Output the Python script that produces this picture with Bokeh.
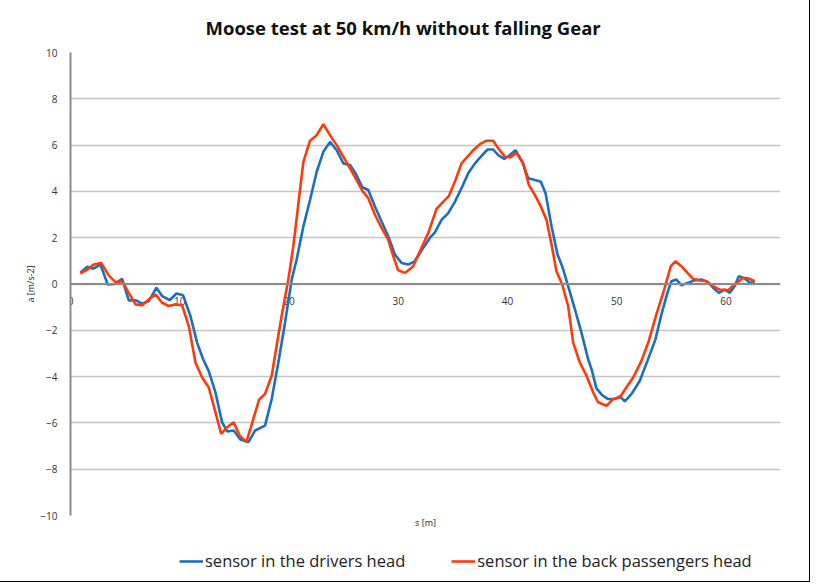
from bokeh.plotting import figure
from bokeh.layouts import column
from bokeh.models import Range1d, FixedTicker, Span, Legend, LegendItem
from bokeh.embed import file_html
from bokeh.resources import INLINE
from bokeh.core.properties import value

# ---------------- data ----------------
driver_s = [0.91, 1.53, 2.08, 2.74, 3.41, 4.03, 4.73, 5.33, 5.95, 6.56, 7.16, 7.87, 8.39, 9.08,
            9.70, 10.31, 10.98, 11.59, 12.14, 12.65, 13.27, 13.88, 14.34, 14.94, 15.55, 16.29,
            16.9, 17.81, 18.42, 19.03, 19.64, 20.25, 20.7, 21.32, 21.93, 22.54, 23.15, 23.76,
            24.37, 24.98, 25.59, 26.1, 26.72, 27.26, 27.87, 28.48, 29.09, 29.7, 30.31, 30.92,
            31.5, 32.3, 32.9, 33.36, 33.97, 34.58, 35.2, 35.8, 36.41, 37.03, 37.63, 38.18,
            38.7, 39.16, 39.71, 40.23, 40.74, 41.35, 41.9, 42.51, 43.06, 43.49, 44.04, 44.59,
            45.01, 45.56, 46.18, 46.78, 47.39, 47.7, 48.15, 48.67, 49.22, 49.83, 50.29, 50.75,
            51.36, 52.12, 52.82, 53.55, 54.1, 54.65, 55.01, 55.47, 55.93, 56.54, 57.15, 57.82,
            58.37, 58.83, 59.35, 59.9, 60.36, 60.81, 61.18, 61.73, 62.19, 62.65]
driver_a = [0.49, 0.75, 0.66, 0.84, -0.02, 0.0, 0.22, -0.71, -0.7, -0.85, -0.74, -0.16, -0.52, -0.7,
            -0.41, -0.49, -1.38, -2.53, -3.25, -3.75, -4.68, -5.97, -6.37, -6.33, -6.72, -6.83,
            -6.33, -6.12, -4.97, -3.39, -1.67, 0.19, 1.05, 2.49, 3.63, 4.85, 5.71, 6.14,
            5.78, 5.21, 5.14, 4.78, 4.18, 4.06, 3.35, 2.7, 2.06, 1.27, 0.91, 0.84,
            0.98, 1.56, 1.99, 2.23, 2.77, 3.06, 3.56, 4.14, 4.78, 5.21, 5.53, 5.81,
            5.81, 5.57, 5.4, 5.57, 5.78, 5.28, 4.57, 4.49, 4.42, 3.92, 2.49, 1.27,
            0.77, -0.09, -1.1, -2.1, -3.25, -3.68, -4.51, -4.8, -4.97, -4.97, -4.85, -5.07,
            -4.75, -4.18, -3.32, -2.39, -1.31, -0.38, 0.12, 0.19, -0.05, 0.05, 0.16, 0.19,
            0.08, -0.16, -0.38, -0.24, -0.38, -0.09, 0.34, 0.24, 0.05, 0.08]

passenger_s = [0.91, 1.53, 2.13, 2.81, 3.5, 4.12, 4.73, 5.33, 5.95, 6.56, 7.16, 7.78, 8.39, 8.99,
               9.61, 10.22, 10.83, 11.44, 12.05, 12.65, 13.27, 13.79, 14.34, 14.94, 15.49, 16.1,
               16.74, 17.26, 17.81, 18.42, 18.87, 19.33, 19.94, 20.4, 21.32, 21.93, 22.54, 23.15,
               23.76, 24.37, 24.98, 25.59, 26.2, 26.72, 27.26, 27.87, 28.48, 29.09, 29.55, 30.0,
               30.62, 31.38, 31.99, 32.75, 33.5, 34.13, 34.65, 35.25, 35.8, 36.41, 36.87, 37.48,
               38.09, 38.7, 39.16, 39.77, 40.28, 40.83, 41.45, 41.96, 42.51, 43.06, 43.58, 44.04,
               44.49, 45.01, 45.56, 46.02, 46.63, 47.24, 47.85, 48.3, 49.07, 49.68, 50.29, 50.9,
               51.51, 52.27, 52.94, 53.64, 54.35, 54.96, 55.38, 55.93, 56.48, 57.0, 57.61, 58.22,
               58.83, 59.44, 60.2, 60.81, 61.57, 62.09, 62.65]
passenger_a = [0.45, 0.62, 0.84, 0.91, 0.37, 0.08, 0.12, -0.38, -0.88, -0.92, -0.67, -0.45, -0.81, -0.95,
               -0.88, -0.92, -1.82, -3.39, -4.04, -4.46, -5.54, -6.47, -6.19, -5.97, -6.55, -6.83,
               -5.83, -5.0, -4.75, -3.96, -2.67, -1.38, 0.19, 1.63, 5.28, 6.19, 6.43, 6.9,
               6.43, 6.0, 5.5, 5.0, 4.49, 4.03, 3.71, 2.99, 2.42, 1.91, 1.2, 0.59,
               0.48, 0.77, 1.41, 2.2, 3.23, 3.56, 3.81, 4.49, 5.21, 5.53, 5.78, 6.04,
               6.19, 6.19, 5.86, 5.5, 5.47, 5.67, 5.21, 4.28, 3.85, 3.35, 2.77, 1.7,
               0.55, -0.02, -0.95, -2.53, -3.39, -3.96, -4.68, -5.11, -5.26, -4.97, -4.9, -4.46,
               -4.04, -3.32, -2.46, -1.31, -0.24, 0.77, 0.98, 0.77, 0.48, 0.22, 0.16, 0.12,
               -0.09, -0.24, -0.27, -0.02, 0.27, 0.24, 0.12]

x_ticks = [0, 10, 20, 30, 40, 50, 60]
x_tick_labels = [str(t) for t in x_ticks]
y_ticks = [-10, -8, -6, -4, -2, 0, 2, 4, 6, 8, 10]

title_text = "Moose test at 50 km/h without falling Gear"
x_label = "s [m]"
y_label = "a [m/s-2]"
series_names = ["sensor in the drivers head", "sensor in the back passengers head"]
colors = ["#1a6fc0", "#ff3a0a"]

FONT = "Open Sans"

# ---------------- main figure ----------------
p = figure(width=809, height=535,
           x_range=Range1d(0, 65), y_range=Range1d(-10, 10),
           output_backend="svg", toolbar_location=None,
           min_border_left=70, min_border_right=29, min_border_top=50, min_border_bottom=20,
           background_fill_color="white", border_fill_color="white")
p.outline_line_color = None

# title
p.title.text = title_text
p.title.text_font = FONT
p.title.text_font_size = "18.5px"
p.title.text_font_style = "bold"
p.title.text_color = "#111111"
p.title.align = "left"
p.title.offset = 135
p.title.standoff = 25

# y axis
p.yaxis.ticker = FixedTicker(ticks=y_ticks)
p.yaxis.major_tick_line_color = None
p.yaxis.minor_tick_line_color = None
p.yaxis.axis_line_color = "#8a8a8a"
p.yaxis.axis_line_width = 2
p.yaxis.major_label_text_font = FONT
p.yaxis.major_label_text_font_size = "10px"
p.yaxis.major_label_text_color = "#333333"
p.yaxis.major_label_standoff = 7
p.yaxis.axis_label = y_label
p.yaxis.axis_label_text_font = FONT
p.yaxis.axis_label_text_font_size = "9px"
p.yaxis.axis_label_text_font_style = "normal"
p.yaxis.axis_label_text_color = "#222222"
p.yaxis.axis_label_standoff = 0

# x axis (only label; tick labels drawn at the zero line)
p.xaxis.ticker = FixedTicker(ticks=[])
p.xaxis.axis_line_color = None
p.xaxis.major_tick_line_color = None
p.xaxis.minor_tick_line_color = None
p.xaxis.major_label_standoff = 0
p.xaxis.axis_label = x_label
p.xaxis.axis_label_text_font = FONT
p.xaxis.axis_label_text_font_size = "9px"
p.xaxis.axis_label_text_font_style = "normal"
p.xaxis.axis_label_text_color = "#222222"
p.xaxis.axis_label_standoff = 0

# grid
p.xgrid.grid_line_color = None
p.ygrid.ticker = FixedTicker(ticks=y_ticks)
p.ygrid.grid_line_color = "#c4c4c4"
p.ygrid.grid_line_width = 1.3

zero = Span(location=0, dimension="width", line_color="#8a8a8a", line_width=2)
p.add_layout(zero)

p.text(x=x_ticks, y=[0] * len(x_ticks), text=x_tick_labels,
       text_font=value(FONT), text_font_size="10px", text_color="#333333",
       text_align="center", text_baseline="middle", y_offset=17)

p.line(driver_s, driver_a, line_color=colors[0], line_width=2.6)
p.line(passenger_s, passenger_a, line_color=colors[1], line_width=2.6)

# ---------------- legend strip ----------------
lg = figure(width=809, height=46, output_backend="svg", toolbar_location=None,
            x_range=Range1d(0, 1), y_range=Range1d(0, 1),
            x_axis_location=None, y_axis_location=None, min_border=0,
            background_fill_color="white", border_fill_color="white")
lg.outline_line_color = None
lg.xgrid.visible = False
lg.ygrid.visible = False
nan = float("nan")
k1 = lg.line([nan], [nan], line_color=colors[0], line_width=2.6)
k2 = lg.line([nan], [nan], line_color=colors[1], line_width=2.6)
legend = Legend(items=[LegendItem(label=series_names[0], renderers=[k1]),
                       LegendItem(label=series_names[1], renderers=[k2])],
                orientation="horizontal", location=(109, 9),
                label_text_font=FONT, label_text_font_size="16.5px", label_text_color="#222222",
                glyph_width=24, glyph_height=20, label_standoff=2, spacing=46,
                padding=4, margin=0,
                border_line_color=None, background_fill_alpha=0)
lg.add_layout(legend)

layout = column(p, lg, spacing=0, styles={"outline": "1px solid #000"})

open("out.html", "w").write(file_html(layout, INLINE))
